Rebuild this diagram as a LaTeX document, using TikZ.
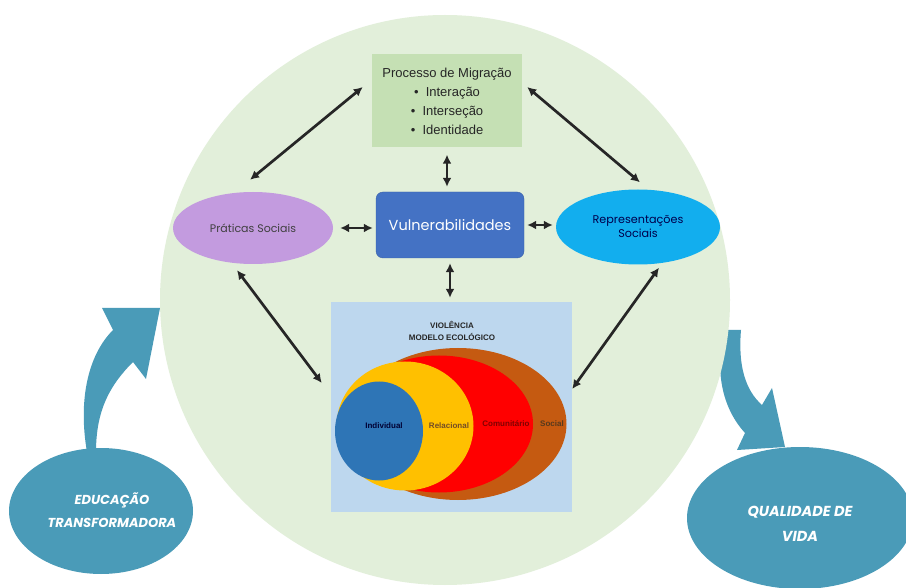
\documentclass[tikz,border=0pt]{standalone}
\usepackage{fontspec}
\setmainfont{Liberation Sans}
\newfontfamily\gothic{Poppins}
\usetikzlibrary{arrows.meta, positioning, shapes.geometric}
\definecolor{cbg}{HTML}{E2EFDA}
\definecolor{cmig}{HTML}{C5E0B4}
\definecolor{cvuln}{HTML}{4472C4}
\definecolor{cprat}{HTML}{C39BDF}
\definecolor{crep}{HTML}{12AEEE}
\definecolor{cviol}{HTML}{BDD7EE}
\definecolor{csocial}{HTML}{C55A11}
\definecolor{ccomun}{HTML}{FF0000}
\definecolor{crelac}{HTML}{FFC000}
\definecolor{cindiv}{HTML}{2E75B6}
\definecolor{cteal}{HTML}{4A9BB8}
\tikzset{
  dbl/.style={{Latex[length=9pt,width=9pt]}-{Latex[length=9pt,width=9pt]}, line width=2.7pt, draw=black!85},
  ovalbox/.style={ellipse, inner sep=0pt, align=center},
  layer/.style={ellipse, inner sep=0pt},
  layertext/.style={font=\fontsize{8}{9}\selectfont\bfseries},
  bigoval/.style={ellipse, fill=cteal, inner sep=0pt},
  bigtext/.style={align=center, text=white, inner sep=0pt}
}
\begin{document}
\begin{tikzpicture}[x=1pt, y=-1pt]
  \useasboundingbox (0,0) rectangle (906,588);
  \clip (0,0) rectangle (906,588);
  \fill[white] (0,0) rectangle (906,588);

  % curved block arrows, behind the circle
  \fill[cteal] (87,452) .. controls (78,400) and (88,355) .. (113,330) -- (102,308)
    -- (160,308) -- (146,379) -- (133,362) .. controls (110,385) and (96,410) .. (96,452) -- cycle;
  \fill[cteal] (724,330) .. controls (714,375) and (724,410) .. (745,433) -- (737,450)
    -- (785,447) -- (772,388) -- (762,405) .. controls (745,390) and (738,365) .. (741,330) -- cycle;

  % background circle
  \fill[cbg] (445,300) circle (285);

  % nodes
  \node[fill=cmig, minimum width=150, minimum height=93, align=center, text=black!85,
    font=\fontsize{13}{19}\selectfont] (mig) at (447,101)
    {Processo de Migração\\ \textbullet\ \ Interação\\ \textbullet\ \ Interseção\\ \textbullet\ \ Identidade};
  \node[fill=cvuln, draw=cvuln!85!black, rounded corners=7pt, minimum width=148, minimum height=66,
    text=white, font=\gothic\fontsize{14.5}{16}\selectfont] (vuln) at (450,225) {Vulnerabilidades};
  \node[ovalbox, fill=cprat, minimum width=160, minimum height=72, text=black!75,
    font=\gothic\fontsize{11}{13}\selectfont] (prat) at (253,228) {Práticas Sociais};
  \node[ovalbox, fill=crep, minimum width=164, minimum height=75, text=blue!30!black,
    font=\gothic\fontsize{11.2}{14}\selectfont] (rep) at (638,227) {Representações\\Sociais};

  % ecological model
  \node[fill=cviol, minimum width=241, minimum height=210] (viol) at (451.5,407) {};
  \node[font=\fontsize{8}{12}\selectfont\bfseries, align=center, text=black!85] (vtitle) at (452,331)
    {VIOLÊNCIA\\MODELO ECOLÓGICO};
  \node[layer, fill=csocial, minimum width=217, minimum height=152] (social) at (458,424) {};
  \node[layer, fill=ccomun, minimum width=188, minimum height=137] (comun) at (439,424) {};
  \node[layer, fill=crelac, minimum width=137, minimum height=129] (relac) at (405,426) {};
  \node[layer, fill=cindiv, minimum width=88, minimum height=99] (indiv) at (379,431) {};
  \node[layertext, text=blue!20!black] (tindiv) at (384,426) {Individual};
  \node[layertext, text=brown!60!black] (trelac) at (449,426) {Relacional};
  \node[layertext, text=red!50!black] (tcomun) at (506,424) {Comunitário};
  \node[layertext, text=brown!45!black] (tsocial) at (552,424) {Social};

  % outcome ovals
  \node[bigoval, minimum width=184, minimum height=126] (edu) at (101,511) {};
  \node[bigtext, font=\gothic\bfseries\itshape\fontsize{13}{23}\selectfont]
    (edutext) at (112,510) {EDUCAÇÃO\\TRANSFORMADORA};
  \node[bigoval, minimum width=226, minimum height=142] (qual) at (800,518) {};
  \node[bigtext, font=\gothic\bfseries\itshape\fontsize{14.5}{25}\selectfont]
    (qualtext) at (800,524) {QUALIDADE DE\\VIDA};

  % connectors
  \draw[dbl] ([shift={(-9,-14)}]mig.west) -- ([shift={(-3,-12)}]prat.north);
  \draw[dbl] ([shift={(5,-14)}]mig.east) -- ([shift={(2,-7)}]rep.north);
  \draw[dbl, shorten <=7pt, shorten >=5pt] (mig.south) -- (mig.south |- vuln.north);
  \draw[dbl, shorten <=7pt, shorten >=3pt] (prat.east) -- (vuln.west |- prat.east);
  \draw[dbl, shorten <=3pt, shorten >=3pt] (vuln.east) -- (rep.west |- vuln.east);
  \draw[dbl, shorten <=5pt, shorten >=4pt] (vuln.south) -- (vuln.south |- viol.north);
  \draw[dbl] ([shift={(-16,6)}]prat.south) -- ([shift={(-9,-24)}]viol.west);
  \draw[dbl] ([shift={(21,3)}]rep.south) -- ([shift={(0,-18)}]viol.east);
\end{tikzpicture}
\end{document}
